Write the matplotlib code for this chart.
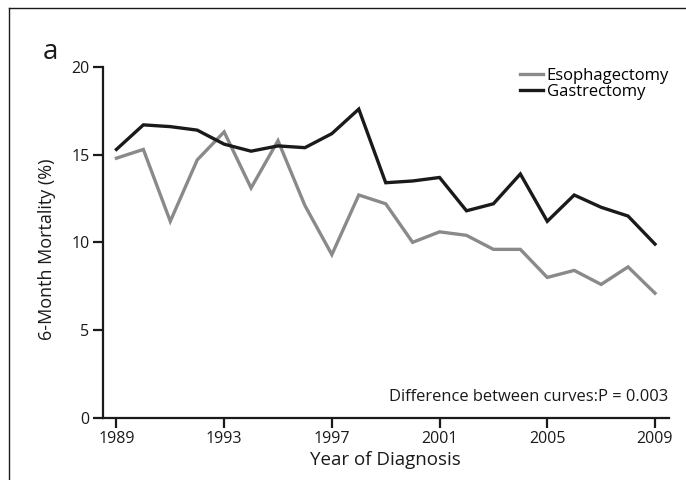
import matplotlib
matplotlib.use('Agg')
import matplotlib.pyplot as plt
from matplotlib.lines import Line2D

years = list(range(1989, 2010))
esophagectomy = [14.8, 15.3, 11.2, 14.7, 16.3, 13.1, 15.8, 12.1, 9.3, 12.7, 12.2,
                 10.0, 10.6, 10.4, 9.6, 9.6, 8.0, 8.4, 7.6, 8.6, 7.1]
gastrectomy = [15.3, 16.7, 16.6, 16.4, 15.6, 15.2, 15.5, 15.4, 16.2, 17.6, 13.4,
               13.5, 13.7, 11.8, 12.2, 13.9, 11.2, 12.7, 12.0, 11.5, 9.9]
xticks = [1989, 1993, 1997, 2001, 2005, 2009]
yticks = [0, 5, 10, 15, 20]

plt.rcParams['font.family'] = ['Open Sans', 'DejaVu Sans']

fig = plt.figure(figsize=(6.86, 4.8), dpi=100)
ax = fig.add_axes([0.1497, 0.1298, 0.8255, 0.7306])

ax.plot(years, esophagectomy, color='#8a8a8a', lw=2.4, label='Esophagectomy', solid_joinstyle='miter')
ax.plot(years, gastrectomy, color='#1a1a1a', lw=2.4, label='Gastrectomy', solid_joinstyle='miter')

ax.set_xlim(1988.49, 2009.52)
ax.set_ylim(0, 20)
ax.set_xticks(xticks)
ax.set_yticks(yticks)
for s in ['top', 'right']:
    ax.spines[s].set_visible(False)
for s in ['left', 'bottom']:
    ax.spines[s].set_linewidth(1.6)
    ax.spines[s].set_color('#1a1a1a')
ax.tick_params(width=1.6, length=7, labelsize=11.5, colors='#1a1a1a', pad=2.5)
ax.set_xlabel('Year of Diagnosis', fontsize=13.5, labelpad=3, color='#1a1a1a')
ax.set_ylabel('6-Month Mortality (%)', fontsize=13, color='#1a1a1a')
ax.yaxis.set_label_coords(-0.082, 0.48)

ax.legend(loc='upper left', bbox_to_anchor=(0.737, 0.998), frameon=False, fontsize=12,
          handlelength=1.38, handletextpad=0.22, labelspacing=0.0, borderpad=0, borderaxespad=0)

ax.text(0.998, 0.06, 'Difference between curves:P = 0.003', transform=ax.transAxes,
        ha='right', va='center', fontsize=11.9, color='#1a1a1a')

fig.text(0.0627, 0.892, 'a', fontsize=20, ha='left', va='center', color='#1a1a1a')

# frame round the panel (only top and left edges show in the crop)
fig.add_artist(Line2D([9 / 686, 1.0], [1 - 8 / 480, 1 - 8 / 480], transform=fig.transFigure, color='#1a1a1a', lw=1.0))
fig.add_artist(Line2D([9 / 686, 9 / 686], [0, 1 - 8 / 480], transform=fig.transFigure, color='#1a1a1a', lw=1.0))

fig.savefig('out.png', dpi=100)
